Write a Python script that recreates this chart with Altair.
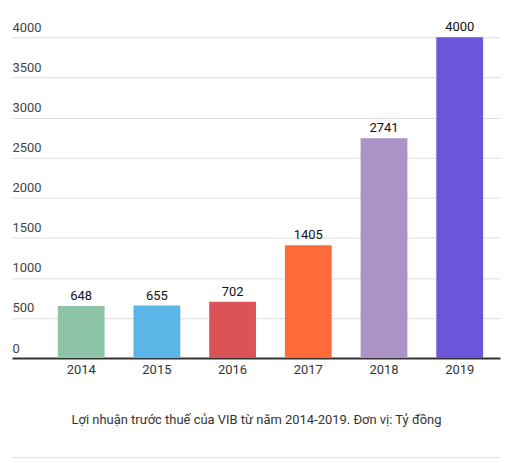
import pandas as pd
import altair as alt

# Lợi nhuận trước thuế VIB, tỷ đồng
years = ["2014", "2015", "2016", "2017", "2018", "2019"]
profit = [648, 655, 702, 1405, 2741, 4000]
colors = ["#8dc3a7", "#5bb5e6", "#db5356", "#fe6a3a", "#ab92c7", "#6d55da"]
y_ticks = [0, 500, 1000, 1500, 2000, 2500, 3000, 3500, 4000]

df = pd.DataFrame({"Year": years, "Profit": profit})

font = "Roboto"
title_text = "Lợi nhuận trước thuế của VIB từ năm 2014-2019. Đơn vị: Tỷ đồng"

x_enc = alt.X(
    "Year:N",
    sort=years,
    scale=alt.Scale(paddingInner=0.382, paddingOuter=0.4145, align=0.73),
    axis=alt.Axis(
        title=title_text, titleFont=font, titleFontSize=13, titleFontWeight="normal",
        titleColor="#333333", titlePadding=37,
        labelAngle=0, labelFont=font, labelFontSize=13, labelColor="#333333",
        labelPadding=6, ticks=False, domainColor="#333333", domainWidth=2,
    ),
)
y_enc = alt.Y(
    "Profit:Q",
    scale=alt.Scale(domain=[0, 4000], nice=False),
    axis=alt.Axis(
        title=None, values=y_ticks, format="d", domain=False, ticks=False,
        labelAlign="left", labelBaseline="bottom", labelPadding=0, labelOffset=-3,
        labelFont=font, labelFontSize=13, labelColor="#444444",
        gridColor="#dddddd", gridWidth=1,
    ),
)

base = alt.Chart(df).encode(x=x_enc, y=y_enc)

bars = base.mark_bar().encode(
    color=alt.Color("Year:N", scale=alt.Scale(domain=years, range=colors), legend=None)
)

labels = base.mark_text(
    baseline="bottom", dy=-3, font=font, fontSize=13, fontWeight="normal", color="#111111"
).encode(text="Profit:Q")

bottom_line = alt.Chart(pd.DataFrame({"v": [0]})).mark_rule(
    color="#dddddd", strokeWidth=1
).encode(x=alt.value(0), x2=alt.value(490), y=alt.value(422))

chart = alt.layer(bars, labels, bottom_line).properties(
    width=490,
    height=322,
    autosize=alt.AutoSizeParams(type="none"),
    padding={"top": 28.5, "left": 4, "right": 10, "bottom": 110},
).configure_view(stroke=None)

chart.save("out.html", embed_options={"renderer": "svg", "actions": False})
